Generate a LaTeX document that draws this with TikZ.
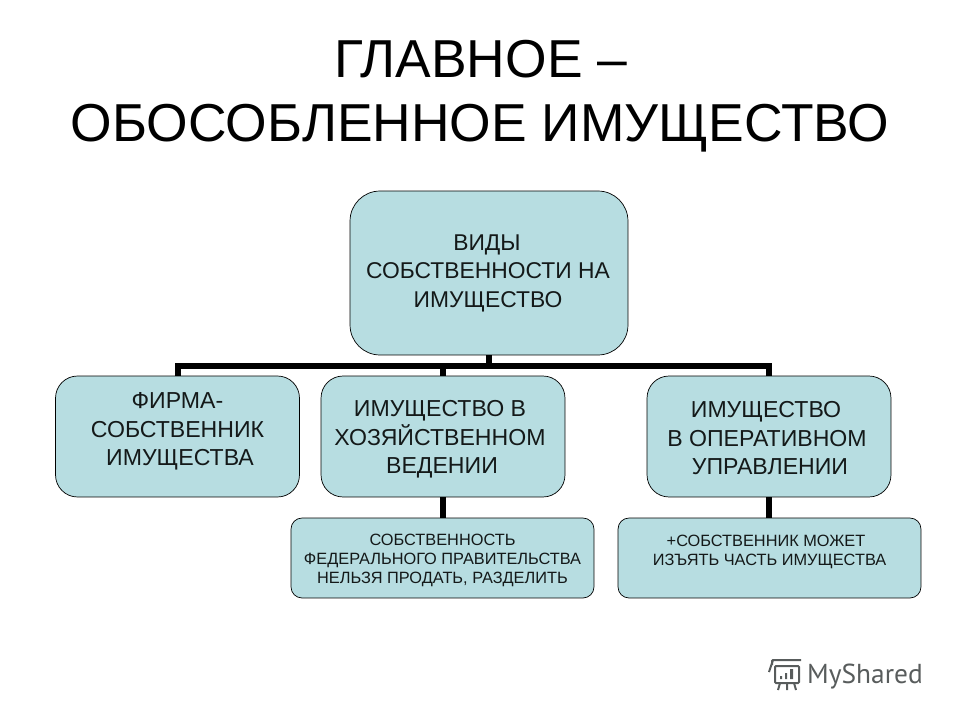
\documentclass[tikz,border=0pt]{standalone}
\usepackage{fontspec}
\setmainfont{Liberation Sans}
\newfontfamily\markfont{PT Sans}
\usetikzlibrary{positioning, calc}
\definecolor{boxfill}{RGB}{183,221,225}
\definecolor{inktext}{RGB}{20,25,25}
\definecolor{markgray}{RGB}{88,92,92}
\tikzset{
    unitbox/.style={
        rectangle, rounded corners=0.44cm, draw=black, fill=boxfill,
        text centered, align=center, text=inktext, inner sep=0pt,
        minimum width=4.88cm, minimum height=2.42cm, font=\fontsize{13.15}{16.2}\selectfont
    },
    rootbox/.style={
        unitbox, rounded corners=0.6cm, minimum width=5.56cm, minimum height=3.28cm,
        font=\fontsize{13}{16.2}\selectfont
    },
    notebox/.style={
        unitbox, rounded corners=0.22cm, minimum width=6.06cm, minimum height=1.6cm,
        font=\fontsize{9.3}{10.9}\selectfont
    },
    link/.style={draw=black, line width=0.12cm},
    titletext/.style={font=\fontsize{30.4}{35}\selectfont, text=black, inner sep=0pt, anchor=base}
}
\begin{document}
\begin{tikzpicture}[x=0.02cm, y=-0.02cm]
    \useasboundingbox (0,0) rectangle (960,720);

    % Title
    \node[titletext] (titleone) at (481,77) {ГЛАВНОЕ –};
    \node[titletext] (titletwo) at (480,141) {ОБОСОБЛЕННОЕ ИМУЩЕСТВО};

    % Boxes
    \node[rootbox] (root) at (489,273) {\hspace*{-0.08cm}ВИДЫ\\\hspace*{-0.04cm}СОБСТВЕННОСТИ НА\\\hspace*{-0.04cm}ИМУЩЕСТВО};
    \node[unitbox] (firm) at (177.5,436.5) {ФИРМА-\\СОБСТВЕННИК\\\hspace*{0.1cm}ИМУЩЕСТВА\rule[-0.3cm]{0pt}{0pt}};
    \node[unitbox] (econ) at (443,436.5) {\rule{0pt}{0.45cm}\hspace*{-0.12cm}ИМУЩЕСТВО В\\\hspace*{-0.12cm}ХОЗЯЙСТВЕННОМ\\\hspace*{-0.04cm}ВЕДЕНИИ};
    \node[unitbox] (oper) at (769,436.5) {\rule{0pt}{0.39cm}\hspace*{-0.12cm}ИМУЩЕСТВО\\\hspace*{-0.08cm}В ОПЕРАТИВНОМ\\\hspace*{0.04cm}УПРАВЛЕНИИ};
    \node[notebox] (econnote) at (442.5,558) {\rule{0pt}{0.335cm}СОБСТВЕННОСТЬ\\ФЕДЕРАЛЬНОГО ПРАВИТЕЛЬСТВА\\НЕЛЬЗЯ ПРОДАТЬ, РАЗДЕЛИТЬ};
    \node[notebox] (opernote) at (769.5,558) {\rule{0pt}{0.295cm}\hspace*{-0.14cm}+СОБСТВЕННИК МОЖЕТ\\ИЗЪЯТЬ ЧАСТЬ ИМУЩЕСТВА\\\mbox{}};

    % Connectors
    \coordinate (bus) at (489,366);
    \draw[link] (root.south) -- (bus);
    \draw[link] (firm.north) |- (bus) -| (oper.north);
    \draw[link] (econ.north) |- (bus);
    \draw[link] (econ.south) -- (econnote.north -| econ.south);
    \draw[link] (oper.south) -- (opernote.north -| oper.south);

    % Watermark
    \node[font=\markfont\fontsize{15.6}{16}\selectfont, text=markgray, inner sep=0pt, anchor=base] (mark) at (865,683) {MyShared};
    \draw[markgray, line width=0.04cm, rounded corners=0.02cm] (772,665) -- (772,660) -- (801,660) (775,666) rectangle (799,683);
    \draw[markgray, line width=0.04cm] (773,660) -- (769,672) (780,683) -- (778,690) (787,683) -- (787,690) (794,683) -- (796,690);
    \fill[markgray] (780,676) rectangle (782,679) (785,673) rectangle (787,679) (790,669) rectangle (793,679);
\end{tikzpicture}
\end{document}
